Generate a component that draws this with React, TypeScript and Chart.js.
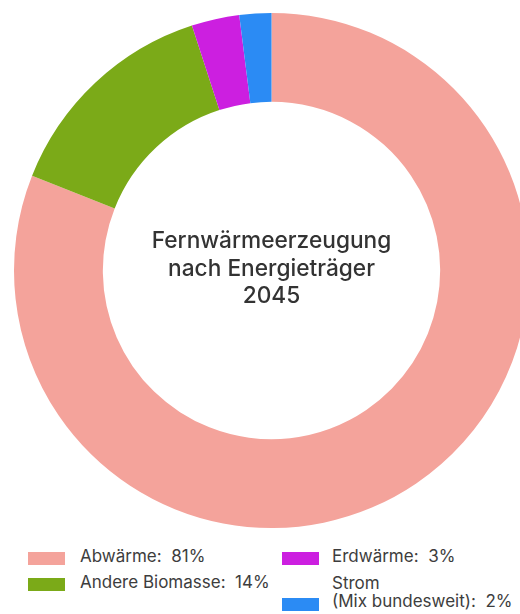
import React, { useEffect, useRef } from "react";
import { Chart, registerables } from "chart.js";

Chart.register(...registerables);

const labels: string[][] = [["Abwärme:"], ["Andere Biomasse:"], ["Erdwärme:"], ["Strom", "(Mix bundesweit):"]];
const values: number[] = [81, 14, 3, 2];
const colors: string[] = ["#F4A39B", "#7BAA18", "#CC1FE0", "#2B8BF4"];
const centerTitle: string[] = ["Fernwärmeerzeugung", "nach Energieträger", "2045"];

const FONT = "Inter, 'Open Sans', sans-serif";

const centerTextPlugin = {
  id: "centerText",
  afterDraw(chart: any) {
    const meta = chart.getDatasetMeta(0);
    const arc = meta.data[0];
    if (!arc) return;
    const { x, y } = arc.getProps(["x", "y"], true);
    const ctx = chart.ctx;
    ctx.save();
    ctx.fillStyle = "#333333";
    ctx.font = `500 22.7px ${FONT}`;
    ctx.textAlign = "center";
    ctx.textBaseline = "alphabetic";
    const lh = 27.5;
    const start = y - 22.5;
    centerTitle.forEach((t, i) => ctx.fillText(t, x, start + i * lh));
    ctx.restore();
  },
};

export default function App() {
  const ref = useRef<HTMLCanvasElement>(null);
  useEffect(() => {
    if (!ref.current) return;
    const chart = new Chart(ref.current, {
      type: "doughnut",
      data: {
        labels: labels.map((l) => l.join(" ")),
        datasets: [
          {
            data: values,
            backgroundColor: colors,
            borderWidth: 0,
          },
        ],
      },
      options: {
        responsive: false,
        animation: false,
        cutout: "65.5%",
        layout: { padding: { top: 13, bottom: 2, left: 0, right: 0 } },
        plugins: {
          legend: { display: false },
          tooltip: { enabled: false },
        },
      },
      plugins: [centerTextPlugin],
    });
    return () => chart.destroy();
  }, []);

  const legendPos = [
    { left: 28, top: 552, tx: 80, ty: 547 },
    { left: 28, top: 578, tx: 80, ty: 573 },
    { left: 282, top: 552, tx: 332, ty: 547 },
    { left: 282, top: 598, tx: 332, ty: 574 },
  ];

  return (
    <div
      style={{
        position: "absolute",
        left: 0,
        top: 0,
        width: 520,
        height: 614,
        overflow: "hidden",
        background: "#ffffff",
        fontFamily: FONT,
      }}
    >
      <canvas ref={ref} width={543} height={530} style={{ position: "absolute", left: 0, top: 0, width: 543, height: 530 }} />
      {labels.map((l, i) => (
        <React.Fragment key={i}>
          <div
            style={{
              position: "absolute",
              left: legendPos[i].left,
              top: legendPos[i].top,
              width: 37,
              height: 13,
              background: colors[i],
            }}
          />
          <div
            style={{
              position: "absolute",
              left: legendPos[i].tx,
              top: legendPos[i].ty,
              fontSize: 17,
              lineHeight: "18px",
              color: "#3d3d3d",
              whiteSpace: "pre",
            }}
          >
            {l.map((line, j) => (
              <div key={j}>{j === l.length - 1 ? `${line}  ${values[i]}%` : line}</div>
            ))}
          </div>
        </React.Fragment>
      ))}
    </div>
  );
}
